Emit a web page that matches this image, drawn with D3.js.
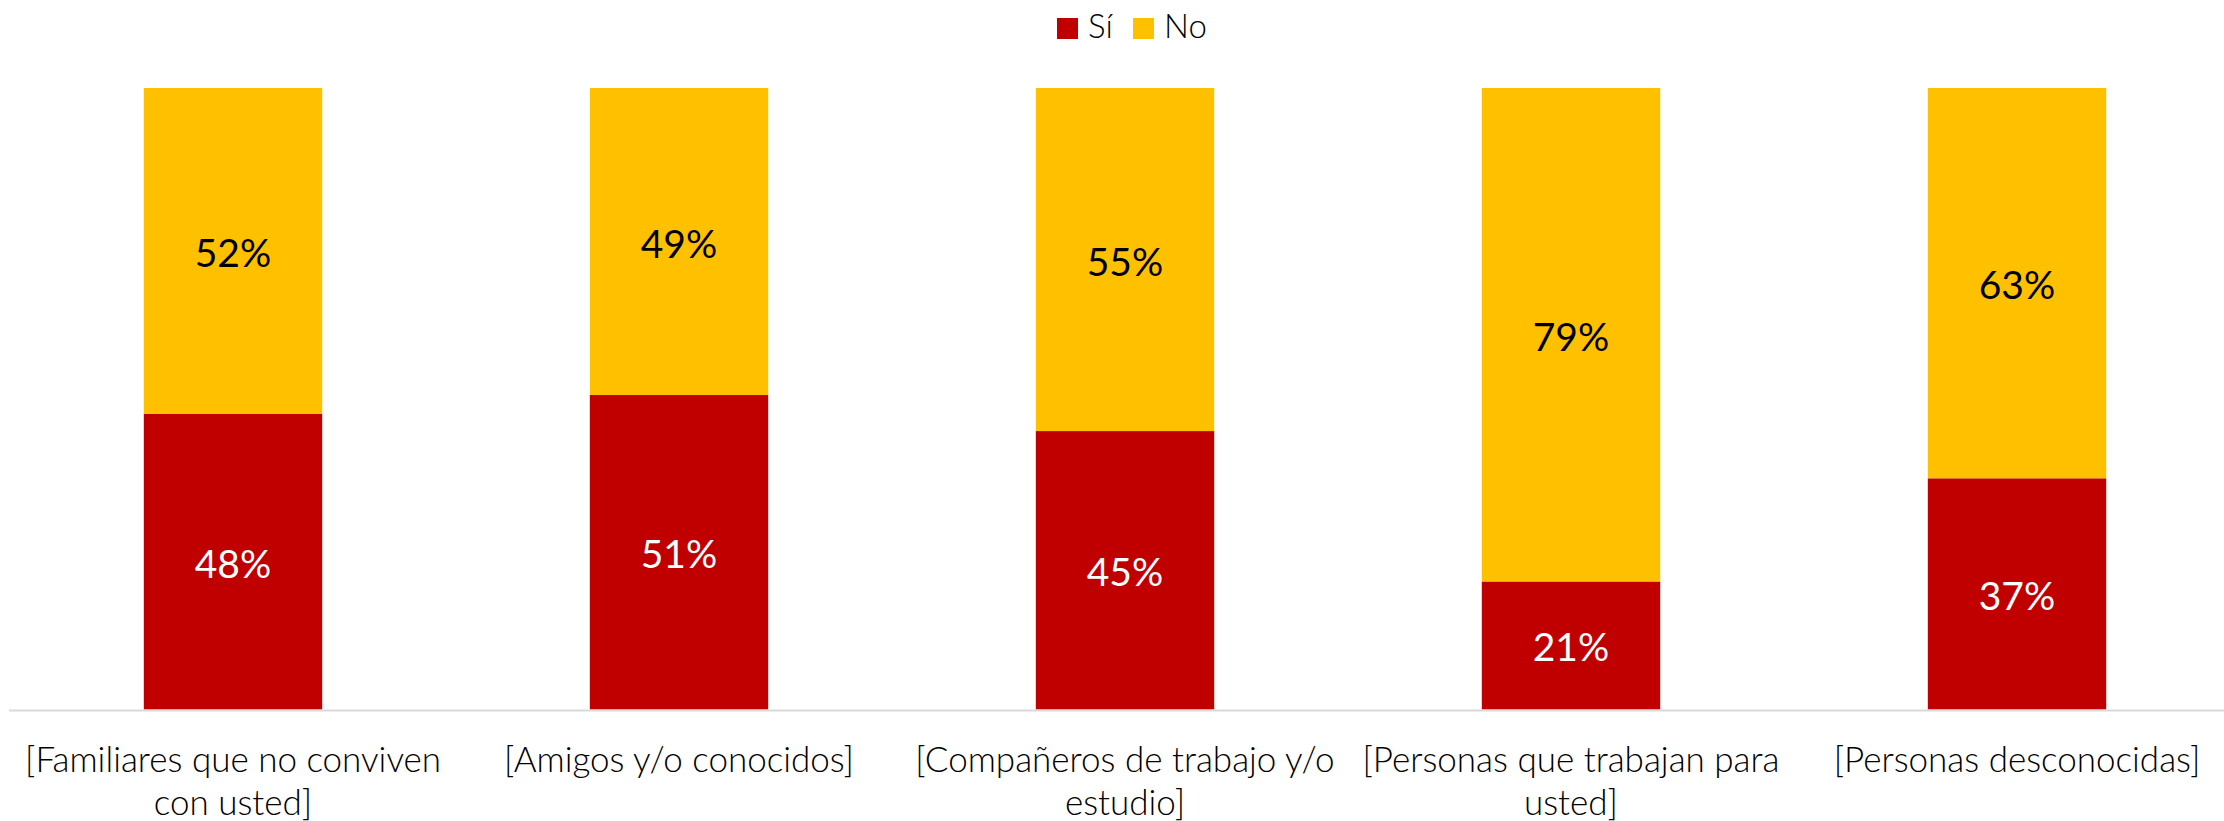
<!DOCTYPE html>
<html lang="es">
  <head>
    <meta charset="UTF-8">
    <title>Sí / No por tipo de persona</title>
    <script src="https://d3js.org/d3.v7.min.js"></script>
    <style>
      body {
        margin: 0;
        padding: 0;
        background-color: #fff;
      }
      svg {
        display: block;
      }
      .cat-label {
        font-family: 'Lato', 'Noto Sans', sans-serif;
        font-weight: 300;
        font-size: 35px;
        fill: #000;
      }
      .legend text {
        font-family: 'Lato', 'Noto Sans', sans-serif;
        font-weight: 300;
        font-size: 33px;
        fill: #000;
      }
      .value-label {
        font-family: 'Lato', 'Noto Sans', sans-serif;
        font-size: 39px;
      }
    </style>
  </head>
  <body>
    <script>
      // categories (line breaks as in the original chart)
      const categories = [
        "[Familiares que no conviven\ncon usted]",
        "[Amigos y/o conocidos]",
        "[Compañeros de trabajo y/o\nestudio]",
        "[Personas que trabajan para\nusted]",
        "[Personas desconocidas]"
      ];
      const siValues = [47.6, 50.6, 44.8, 20.6, 37.2];
      const noValues = [52.4, 49.4, 55.2, 79.4, 62.8];
      const seriesNames = ["Sí", "No"];
      const seriesColors = ["#C00000", "#FFC000"];
      const labelColors = ["#fff", "#000"];

      const width = 2224, height = 821;
      const svg = d3.select("body").append("svg").attr("width", width).attr("height", height);

      const x = d3.scaleBand().domain(categories).range([10, 2240]).paddingInner(0.6).paddingOuter(0.3);
      const y = d3.scaleLinear().domain([0, 100]).range([709.5, 88]);

      const rows = categories.map((c, i) => ({ cat: c, "Sí": siValues[i], "No": noValues[i] }));
      const stacked = d3.stack().keys(seriesNames)(rows);

      const layers = svg.selectAll(".layer").data(stacked).enter().append("g")
        .attr("class", "layer")
        .attr("fill", (d, i) => seriesColors[i]);

      layers.selectAll("rect").data(d => d).enter().append("rect")
        .attr("x", d => x(d.data.cat))
        .attr("width", x.bandwidth())
        .attr("y", d => y(d[1]))
        .attr("height", d => y(d[0]) - y(d[1]));

      layers.selectAll(".value-label").data((d, i) => d.map(p => ({ p: p, s: i }))).enter().append("text")
        .attr("class", "value-label")
        .attr("text-anchor", "middle")
        .attr("x", d => x(d.p.data.cat) + x.bandwidth() / 2)
        .attr("y", d => (y(d.p[0]) + y(d.p[1])) / 2 + 16)
        .attr("fill", d => labelColors[d.s])
        .text(d => Math.round(d.p[1] - d.p[0]) + "%");

      // category axis
      svg.append("line")
        .attr("x1", 9).attr("x2", width)
        .attr("y1", y(0) + 1).attr("y2", y(0) + 1)
        .attr("stroke", "#d9d9d9").attr("stroke-width", 2);

      const cats = svg.selectAll(".cat-label").data(categories).enter().append("text")
        .attr("class", "cat-label")
        .attr("text-anchor", "middle")
        .attr("x", d => x(d) + x.bandwidth() / 2)
        .attr("y", 772);
      cats.selectAll("tspan").data(d => d.split("\n")).enter().append("tspan")
        .attr("x", function() { return this.parentNode.getAttribute("x"); })
        .attr("dy", (d, i) => i === 0 ? 0 : 43)
        .text(d => d);

      // legend
      const legend = svg.append("g").attr("class", "legend");
      const legendX = [1057, 1133];
      seriesNames.forEach((name, i) => {
        legend.append("rect")
          .attr("x", legendX[i]).attr("y", 18)
          .attr("width", 21).attr("height", 21)
          .attr("fill", seriesColors[i]);
        legend.append("text")
          .attr("x", legendX[i] + 31).attr("y", 38)
          .text(name);
      });
    </script>
  </body>
</html>
